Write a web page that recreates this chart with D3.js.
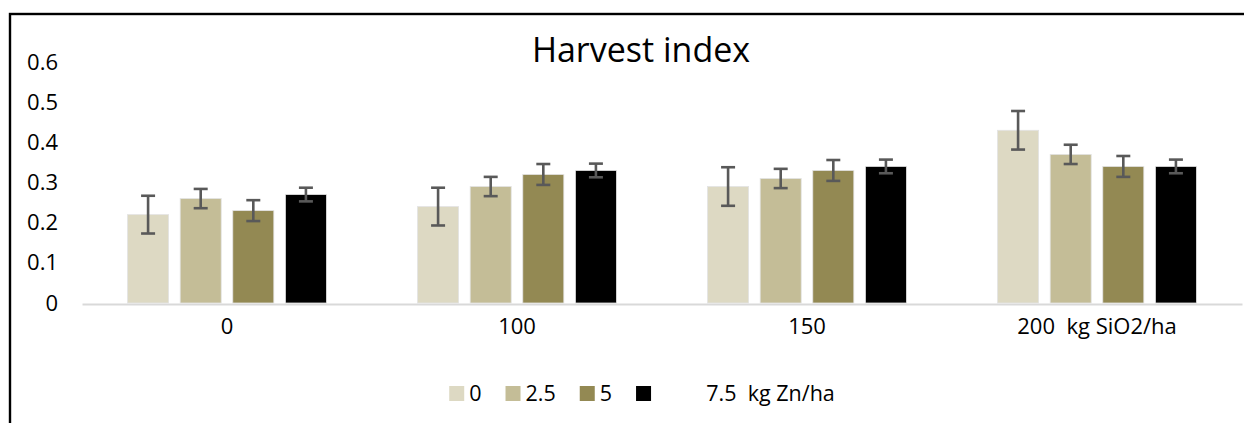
<!DOCTYPE html>
<html>
<head>
<meta charset="utf-8">
<script src="https://cdn.jsdelivr.net/npm/d3@7"></script>
<style>
  body { margin: 0; background: #fff; }
  svg text { font-family: "Open Sans", sans-serif; fill: #000; white-space: pre; }
</style>
</head>
<body>
<div id="chart"></div>
<script>
// silica doses (x axis groups) and zinc doses (series)
var categories = ["0", "100", "150", "200  kg SiO2/ha"];
var series = ["0", "2.5", "5", "7.5"];
var legendLabels = ["0", "2.5", "5", "         7.5  kg Zn/ha"];
var colors = ["#ddd9c3", "#c4bd97", "#938953", "#000000"];

// harvest index, one array per zinc dose, ordered like categories
var zn0 = [0.22, 0.24, 0.29, 0.43];
var zn25 = [0.26, 0.29, 0.31, 0.37];
var zn5 = [0.23, 0.32, 0.33, 0.34];
var zn75 = [0.27, 0.33, 0.34, 0.34];

// error bar half lengths
var err0 = [0.047, 0.047, 0.048, 0.048];
var err25 = [0.024, 0.024, 0.024, 0.024];
var err5 = [0.026, 0.026, 0.026, 0.026];
var err75 = [0.017, 0.017, 0.017, 0.017];

var yTicks = [0, 0.1, 0.2, 0.3, 0.4, 0.5, 0.6];

var values = [zn0, zn25, zn5, zn75];
var errors = [err0, err25, err5, err75];

var width = 1244, height = 423;
var svg = d3.select("#chart").append("svg")
    .attr("width", width).attr("height", height);

// chart frame (right and bottom edges fall outside the picture)
svg.append("rect")
    .attr("x", 10).attr("y", 14)
    .attr("width", 1260).attr("height", 440)
    .attr("fill", "none").attr("stroke", "#000").attr("stroke-width", 2.4);

svg.append("text")
    .attr("x", 641).attr("y", 62)
    .attr("text-anchor", "middle")
    .style("font-size", "34px")
    .text("Harvest index");

var x0 = d3.scaleBand().domain(categories).range([82, 1242]);
var x1 = d3.scaleBand().domain(series).range([0, x0.bandwidth()])
    .paddingInner(0.22).paddingOuter(0.866);
var y = d3.scaleLinear().domain([0, 0.6]).range([303, 62]);

// y axis: labels only
var yAxis = svg.append("g")
    .attr("transform", "translate(66,0)")
    .call(d3.axisLeft(y).tickValues(yTicks).tickSize(0).tickPadding(8)
        .tickFormat(function (d) { return d === 0 ? "0" : d3.format(".1f")(d); }));
yAxis.select(".domain").remove();
yAxis.selectAll("text").style("font-size", "22px").style("font-family", "Open Sans").attr("fill", "#000");

// bars
var data = [];
categories.forEach(function (c, i) {
    series.forEach(function (s, j) {
        data.push({ cat: c, ser: s, j: j, v: values[j][i], e: errors[j][i] });
    });
});

var g = svg.append("g");
g.selectAll("rect.bar").data(data).enter().append("rect")
    .attr("class", "bar")
    .attr("x", function (d) { return x0(d.cat) + x1(d.ser); })
    .attr("y", function (d) { return y(d.v); })
    .attr("width", x1.bandwidth())
    .attr("height", function (d) { return y(0) - y(d.v); })
    .attr("fill", function (d) { return colors[d.j]; })
    .attr("stroke", "#e3e3e3").attr("stroke-width", 0.8);

// x axis line and labels
var xAxis = svg.append("g")
    .attr("transform", "translate(0," + (y(0) + 1) + ")")
    .call(d3.axisBottom(x0).tickSize(0).tickPadding(14));
xAxis.select(".domain").attr("stroke", "#d9d9d9").attr("stroke-width", 2.2);
xAxis.selectAll("text").style("font-size", "22px").style("font-family", "Open Sans").attr("fill", "#000");

// error bars
var eb = svg.append("g").attr("stroke", "#595959").attr("stroke-width", 2.6);
data.forEach(function (d) {
    var cx = x0(d.cat) + x1(d.ser) + x1.bandwidth() / 2;
    eb.append("line").attr("x1", cx).attr("x2", cx)
        .attr("y1", y(d.v + d.e)).attr("y2", y(d.v - d.e));
    eb.append("line").attr("x1", cx - 7).attr("x2", cx + 7)
        .attr("y1", y(d.v + d.e)).attr("y2", y(d.v + d.e));
    eb.append("line").attr("x1", cx - 7).attr("x2", cx + 7)
        .attr("y1", y(d.v - d.e)).attr("y2", y(d.v - d.e));
});

// legend, laid out by measured text widths then centred
var legend = svg.append("g");
var lx = 0;
legendLabels.forEach(function (lab, j) {
    var item = legend.append("g").attr("transform", "translate(" + lx + ",0)");
    item.append("rect").attr("x", 0).attr("y", 386).attr("width", 15).attr("height", 15)
        .attr("fill", colors[j]);
    var t = item.append("text").attr("x", 20).attr("y", 401)
        .style("font-size", "21.5px").text(lab);
    lx += 20 + t.node().getComputedTextLength() + 24;
});
var lw = lx - 24;
legend.attr("transform", "translate(" + (642 - lw / 2) + ",0)");
</script>
</body>
</html>
